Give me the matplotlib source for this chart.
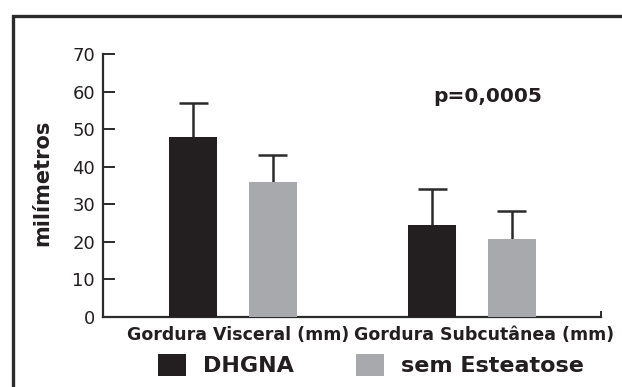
import matplotlib
matplotlib.use("Agg")
import matplotlib.pyplot as plt
import numpy as np
from matplotlib.lines import Line2D
from matplotlib.transforms import ScaledTranslation

# ---- data ----
categories = ["Gordura Visceral (mm)", "Gordura Subcutânea (mm)"]
series_names = ["DHGNA", "sem Esteatose"]
dhgna = [48, 24.5]
dhgna_err = [9, 9.5]
sem_esteatose = [36, 20.7]
sem_esteatose_err = [7, 7.4]
y_ticks = [0, 10, 20, 30, 40, 50, 60, 70]
p_text = "p=0,0005"
y_label = "milímetros"

W, H = 622, 387
DPI = 100
BLACK = "#231f20"
GRAY = "#a7a9ac"
LINE = "#2b2b2b"

fig = plt.figure(figsize=(W / DPI, H / DPI), dpi=DPI)
fig.patch.set_facecolor("white")

def px(x, y):
    return x / W, 1 - y / H

# axes area: x 103..601, y 54..316.7
ax = fig.add_axes([103 / W, 1 - 316.7 / H, 498 / W, (316.7 - 54) / H])

x = np.arange(len(categories))
off = 0.167
bw = 0.201
capw = 0.121
b1 = ax.bar(x - off, dhgna, bw, color=BLACK, label=series_names[0], zorder=3)
b2 = ax.bar(x + off, sem_esteatose, bw, color=GRAY, label=series_names[1], zorder=3)

# upper-only error bars
for xs, vals, errs in [(x - off, dhgna, dhgna_err), (x + off, sem_esteatose, sem_esteatose_err)]:
    vals = np.asarray(vals, float)
    tops = vals + np.asarray(errs, float)
    ax.vlines(xs, vals, tops, colors=LINE, linewidth=1.8, zorder=2)
    ax.hlines(tops, xs - capw / 2, xs + capw / 2, colors=LINE, linewidth=1.8, zorder=2)

ax.set_xlim(-0.544, 1.540)
ax.set_ylim(0, 70)

for s in ["top", "right"]:
    ax.spines[s].set_visible(False)
for s in ["left", "bottom"]:
    ax.spines[s].set_linewidth(1.6)
    ax.spines[s].set_color(LINE)

ax.set_yticks(y_ticks)
ax.tick_params(axis="y", direction="in", length=8.6, width=1.4, color=LINE,
               pad=5.8, labelsize=13, labelcolor=BLACK)
ax.set_xticks(x)
ax.set_xticklabels(categories, fontsize=12.5, fontweight="bold", color=BLACK)
ax.tick_params(axis="x", which="major", length=0, pad=7)
# small end tick on the right of x axis
ax.set_xticks([1.540], minor=True)
ax.tick_params(axis="x", which="minor", direction="in", length=4, width=1.4, color=LINE)

# nudge category labels to match reference
for lab, dx in zip(ax.get_xticklabels(), [5, 12]):
    lab.set_transform(lab.get_transform() + ScaledTranslation(dx / DPI, 0, fig.dpi_scale_trans))

ax.set_ylabel(y_label, fontsize=15, fontweight="bold", color=BLACK)
ax.yaxis.set_label_coords((42 - 103) / 498, (316.7 - 182.5) / 262.7)
ax.yaxis.label.set_va("center")

ax.text((488 - 103) / 498, (316.7 - 101.7) / 262.7, p_text, transform=ax.transAxes,
        ha="center", va="baseline", fontsize=14.5, fontweight="bold", color=BLACK)

# legend
fs = 16
fspx = fs * DPI / 72
leg = fig.legend(handles=[b1, b2], labels=series_names, loc="center left",
                 bbox_to_anchor=px(158, 365), ncol=2, frameon=False,
                 prop=dict(size=fs, weight="bold"),
                 handlelength=28 / fspx, handleheight=26 / fspx,
                 handletextpad=17 / fspx, columnspacing=62 / fspx,
                 borderpad=0, borderaxespad=0)
for t in leg.get_texts():
    t.set_color(BLACK)

# outer frame (cut off at right/bottom)
fig.add_artist(Line2D([12.8 / W, 12.8 / W, 1.0], [0.0, 1 - 15.5 / H, 1 - 15.5 / H],
                      transform=fig.transFigure, color=LINE, linewidth=2.4,
                      solid_joinstyle="miter"))

fig.savefig("out.png", dpi=DPI, facecolor="white")
